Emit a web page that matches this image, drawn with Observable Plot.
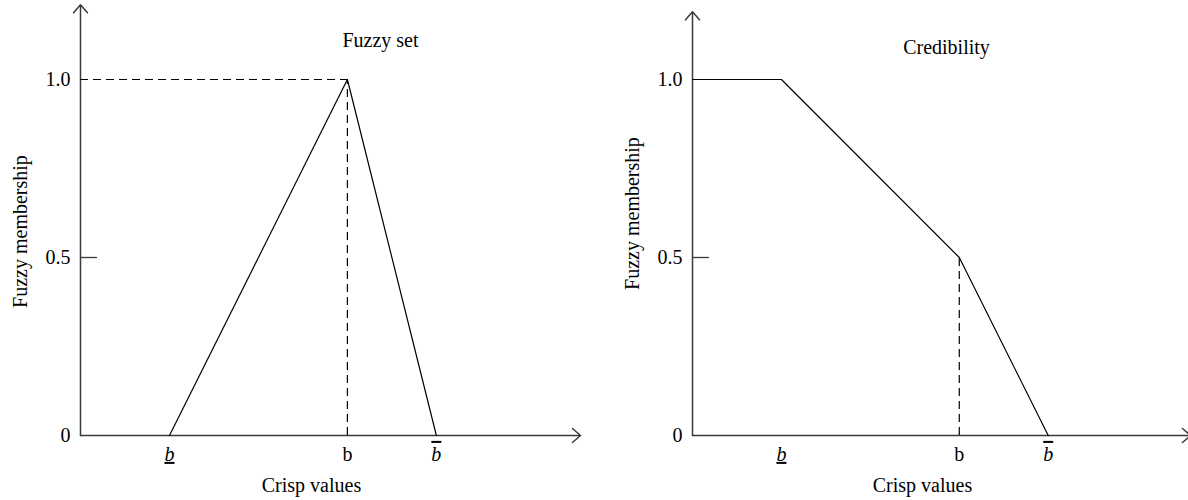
<!DOCTYPE html>
<html><head><meta charset="utf-8">
<script src="https://cdn.jsdelivr.net/npm/d3@7"></script>
<script src="https://cdn.jsdelivr.net/npm/@observablehq/plot@0.6"></script>
<style>
body{margin:0;background:#fff;}
#wrap{display:flex;width:1188px;height:500px;overflow:hidden;}
#wrap svg{flex:none;overflow:visible;}
</style></head><body><div id="wrap"></div>
<script>
// ---- data ----
const xTicks = [1, 3, 4];
const xTickLabels = ["b", "b", "b"];
const xTickStyles = ["under", "plain", "over"];
const yTicks = [0, 0.5, 1];
const yTickLabels = ["0", "0.5", "1.0"];
const yMarkTicks = [0.5];
const fuzzyX = [1, 3, 4];
const fuzzyY = [0, 1, 0];
const credX = [0, 1, 3, 4];
const credY = [1, 1, 0.5, 0];
const titles = ["Fuzzy set", "Credibility"];
const xLabel = "Crisp values";
const yLabel = "Fuzzy membership";
const xAxisEnd = [5.62, 5.6];
const yAxisEnd = [1.21, 1.19];

const fuzzy = fuzzyX.map((x, i) => ({x, y: fuzzyY[i]}));
const cred = credX.map((x, i) => ({x, y: credY[i]}));
const xTickData = xTicks.map((x, i) => ({x, label: xTickLabels[i], kind: xTickStyles[i]}));
const yTickData = yTicks.map((y, i) => ({y, label: yTickLabels[i]}));

const FONT = "'Liberation Serif', 'DejaVu Serif', serif";
const axisStyle = {stroke: "#3a3a3a", strokeWidth: 1.5, headLength: 10.6, headAngle: 82};
const lineStyle = {stroke: "#000", strokeWidth: 1.2};
const dashStyle = {stroke: "#000", strokeWidth: 1.2, strokeDasharray: "8,5"};

function panel(cfg) {
  const marks = [
    Plot.arrow([0], {x1: 0, y1: 0, x2: cfg.xEnd, y2: 0, ...axisStyle}),
    Plot.arrow([0], {x1: 0, y1: 0, x2: 0, y2: cfg.yEnd, ...axisStyle}),
    Plot.ruleY(yMarkTicks, {x1: 0, x2: 0, insetRight: -17, stroke: "#3a3a3a", strokeWidth: 1.3}),
    ...cfg.dashes,
    Plot.line(cfg.line, {x: "x", y: "y", ...lineStyle}),
    Plot.text(yTickData, {x: 0, y: "y", text: "label", textAnchor: "end", lineAnchor: "middle", dx: -10}),
    Plot.text(xTickData, {x: "x", y: 0, text: "label", lineAnchor: "middle", dy: 19}),
    Plot.text([cfg.title], {frameAnchor: "top", textAnchor: "middle", lineAnchor: "middle", dx: cfg.titleDx, dy: cfg.titleDy}),
    Plot.text([xLabel], {frameAnchor: "bottom", textAnchor: "middle", lineAnchor: "middle", dx: cfg.xLabelDx, dy: -15}),
    Plot.text([yLabel], {frameAnchor: "left", rotate: -90, textAnchor: "middle", lineAnchor: "middle", dx: cfg.yLabelDx, dy: cfg.yLabelDy})
  ];
  const svg = Plot.plot({
    width: 594, height: 500, margin: 0,
    x: {domain: [0, cfg.xEnd], range: cfg.xRange, axis: null},
    y: {domain: [0, 1], range: [435, 79], axis: null},
    style: {fontFamily: FONT, fontSize: "20px", background: "white", color: "#000", overflow: "visible"},
    marks
  });
  // style the x tick labels (b underlined, b plain, b overlined)
  const tickTexts = Array.from(svg.querySelectorAll("text")).filter(t => xTickLabels.includes(t.textContent));
  tickTexts.forEach((t, i) => {
    const k = xTickData[i] && xTickData[i].kind;
    if (k === "under" || k === "over") {
      t.style.fontStyle = "italic";
      t.style.textDecoration = k === "under" ? "underline" : "overline";
      t.style.textDecorationThickness = "2.5px";
    }
  });
  return svg;
}

const peak = fuzzy[1];
const knee = cred[2];

const left = panel({
  xEnd: xAxisEnd[0], yEnd: yAxisEnd[0], xRange: [80, 580],
  line: fuzzy, title: titles[0], titleDx: 83, titleDy: 40,
  xLabelDx: 14, yLabelDx: 20, yLabelDy: -19,
  dashes: [
    Plot.ruleY([peak], {y: "y", x1: 0, x2: "x", ...dashStyle}),
    Plot.ruleX([peak], {x: "x", y1: 0, y2: "y", ...dashStyle})
  ]
});
const right = panel({
  xEnd: xAxisEnd[1], yEnd: yAxisEnd[1], xRange: [98, 596],
  line: cred, title: titles[1], titleDx: 55, titleDy: 47,
  xLabelDx: 31, yLabelDx: 38, yLabelDy: -37,
  dashes: [
    Plot.ruleX([knee], {x: "x", y1: 0, y2: "y", ...dashStyle})
  ]
});
document.getElementById("wrap").append(left, right);
</script></body></html>
